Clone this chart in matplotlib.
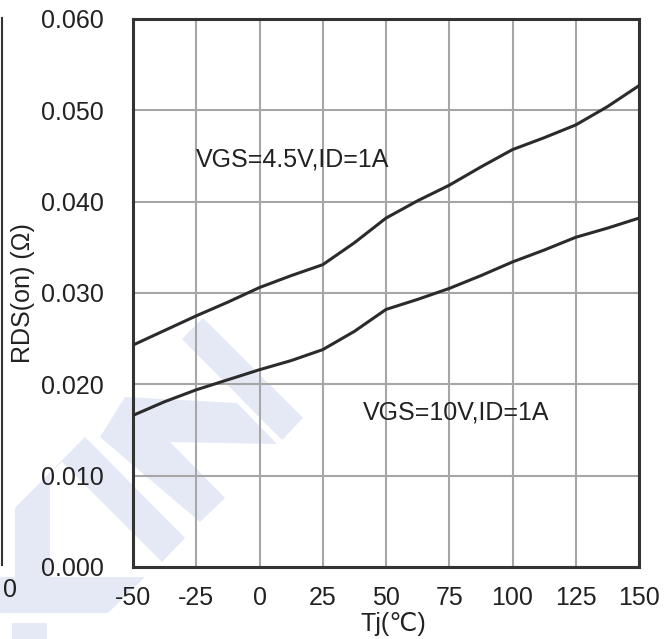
import numpy as np
import matplotlib.pyplot as plt
from matplotlib.patches import Polygon
from matplotlib.lines import Line2D

plt.rcParams['font.family'] = ['Liberation Sans', 'DejaVu Sans']

# Tj (°C)
tj = [-50, -37.5, -25, -12.5, 0, 12.5, 25, 37.5, 50, 62.5, 75, 87.5, 100, 112.5, 125, 137.5, 150]
# RDS(on) at VGS=4.5V, ID=1A
rds_45 = [0.0243, 0.0259, 0.0275, 0.0290, 0.0306, 0.0319, 0.0331, 0.0355, 0.0382, 0.0401,
          0.0418, 0.0438, 0.0457, 0.0470, 0.0484, 0.0504, 0.0527]
# RDS(on) at VGS=10V, ID=1A
rds_10 = [0.0166, 0.0181, 0.0194, 0.0205, 0.0216, 0.0226, 0.0238, 0.0258, 0.0282, 0.0293,
          0.0305, 0.0319, 0.0334, 0.0347, 0.0361, 0.0371, 0.0382]

xticks = [-50, -25, 0, 25, 50, 75, 100, 125, 150]
yticks = [0.000, 0.010, 0.020, 0.030, 0.040, 0.050, 0.060]

W, H = 672, 639
FS = 18
fig = plt.figure(figsize=(W / 100, H / 100), dpi=100)

# watermark (pixel coords, drawn behind the chart)
wm = '#e4e9f5'
shapes = [
    [(182, 339), (203, 318), (303, 418), (282, 440)],
    [(100, 437), (125, 397), (237, 403), (277, 444), (170, 442), (225, 498), (200, 522)],
    [(15, 508), (85, 437), (185, 538), (162, 562), (62, 462), (50, 473), (50, 577),
     (145, 577), (108, 613), (0, 613), (0, 577), (15, 577)],
    [(12, 623), (47, 623), (47, 639), (12, 639)],
]
for pts in shapes:
    fig.patches.append(Polygon([(x / W, 1 - y / H) for x, y in pts], closed=True,
                               transform=fig.transFigure, facecolor=wm, edgecolor='none',
                               zorder=-5))

# bit of the neighbouring chart at the left edge
fig.lines.append(Line2D([1.5 / W, 1.5 / W], [1 - 18 / H, 1 - 565 / H], transform=fig.transFigure,
                        color='#333333', lw=1.5))
fig.text(3 / W, 1 - 590 / H, '0', fontsize=FS, va='center', ha='left', color='#222222')

ax = fig.add_axes([133 / W, 1 - 567 / H, 506 / W, 548 / H])
ax.set_facecolor('none')

ax.plot(tj, rds_45, color='#2b2b2b', lw=2.2, zorder=3)
ax.plot(tj, rds_10, color='#2b2b2b', lw=2.2, zorder=3)

ax.text(-25, 0.0438, 'VGS=4.5V,ID=1A', fontsize=FS, color='#222222', ha='left', va='baseline')
ax.text(41, 0.0162, 'VGS=10V,ID=1A', fontsize=FS, color='#222222', ha='left', va='baseline')

ax.set_xlim(-50, 150)
ax.set_ylim(0, 0.06)
ax.set_xticks(xticks)
ax.set_xticklabels([str(t) for t in xticks])
ax.set_yticks(yticks)
ax.set_yticklabels(['%.3f' % v for v in yticks])
ax.tick_params(axis='both', length=0, labelsize=FS, labelcolor='#222222')
ax.tick_params(axis='y', pad=21)
ax.tick_params(axis='x', pad=14)
ax.grid(True, color='#a6a6a6', lw=1.5)
ax.set_axisbelow(True)
for s in ax.spines.values():
    s.set_color('#333333')
    s.set_linewidth(2.2)

fig.text(11 / W, 1 - 293 / H, 'RDS(on) (Ω)', fontsize=FS, rotation=90, ha='left', va='center',
         color='#222222')
fig.text(393 / W, 1 - 624 / H, 'Tj(℃)', fontsize=FS, ha='center', va='center', color='#222222')

fig.savefig('out.png', dpi=100)
